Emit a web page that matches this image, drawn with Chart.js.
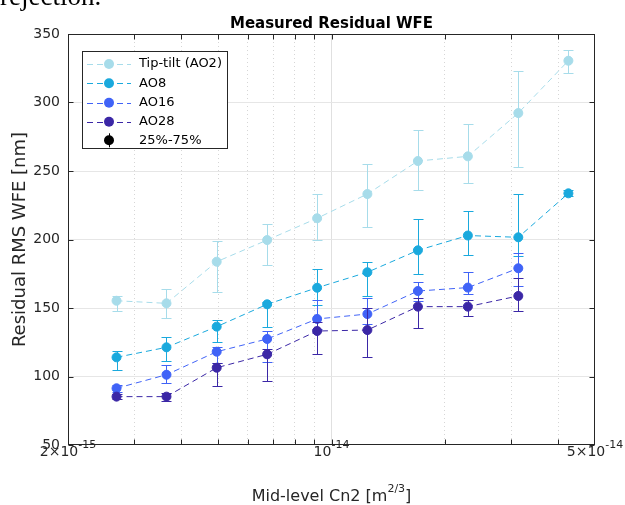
<!DOCTYPE html>
<html>
<head>
<meta charset="utf-8">
<script src="https://cdn.jsdelivr.net/npm/chart.js@4.4.1/dist/chart.umd.min.js"></script>
<style>
body { margin: 0; background: #fff; overflow: hidden; }
#wrap { position: relative; width: 625px; height: 505px; overflow: hidden; }
#clip { position: absolute; left: 0; top: -17px; font-family: "Liberation Serif", serif; font-size: 27px; line-height: 27px; color: #000; }
</style>
</head>
<body>
<div id="wrap">
  <canvas id="wfe" width="625" height="505"></canvas>
  <div id="clip">rejection.</div>
</div>
<script>
// mid-level Cn2 bins (x) and residual WFE per AO mode (y, nm)
let cn2 = [2.69e-15, 3.65e-15, 4.96e-15, 6.75e-15, 9.16e-15, 1.245e-14, 1.695e-14, 2.30e-14, 3.13e-14, 4.25e-14];

let tipTilt   = [155.3, 153.4, 183.8, 199.6, 215.5, 233.2, 257.3, 260.7, 292.3, 330.5];
let tipTiltLo = [147.6, 142.9, 161.7, 181.2, 199.4, 208.8, 236.1, 241.2, 252.9, 321.5];
let tipTiltHi = [159.0, 164.1, 198.8, 211.1, 233.4, 255.3, 279.9, 284.1, 323.2, 338.6];

let ao8   = [114.0, 121.3, 136.4, 152.7, 164.8, 176.1, 192.1, 202.9, 201.6, 233.7];
let ao8Lo = [104.7, 111.3, 125.4, 136.4, 152.2, 158.8, 174.8, 188.5, 188.0, 231.5];
let ao8Hi = [118.9, 128.8, 141.0, 154.6, 178.5, 183.8, 214.7, 220.5, 233.3, 236.0];

let ao16   = [91.4, 101.3, 118.1, 127.4, 142.0, 145.6, 162.4, 164.9, 179.0];
let ao16Lo = [89.0, 95.0, 110.0, 110.8, 135.0, 138.0, 155.0, 160.2, 165.8];
let ao16Hi = [93.5, 108.6, 121.5, 133.0, 156.1, 157.5, 168.8, 176.1, 189.9];

let ao28   = [85.3, 85.3, 106.4, 116.2, 133.2, 133.9, 151.0, 151.0, 158.8];
let ao28Lo = [83.5, 82.3, 93.0, 96.9, 116.2, 114.0, 135.4, 144.4, 148.0];
let ao28Hi = [87.0, 88.2, 110.0, 120.0, 140.0, 150.2, 157.0, 156.0, 171.7];

let xTickVals = [2e-15, 1e-14, 5e-14];
let xTickBase = ['2\u00d710', '10', '5\u00d710'];
let xTickExp  = ['-15', '-14', '-14'];
let yTicks    = [50, 100, 150, 200, 250, 300, 350];

// x grid: every 1,2..9 step of each decade between the limits
let xGrid = [];
for (let d = -15; d <= -14; d++) {
    for (let m = 1; m <= 9; m++) {
        let v = m * Math.pow(10, d);
        if (v >= 2e-15 * 0.999 && v <= 5e-14 * 1.001) xGrid.push(v);
    }
}
let isMajor = v => Math.abs(Math.log10(v) - Math.round(Math.log10(v))) < 1e-6;
let isEdge = v => Math.abs(v / 2e-15 - 1) < 1e-6 || Math.abs(v / 5e-14 - 1) < 1e-6;

let FONT = '"DejaVu Sans", sans-serif';
let AXC = '#262626';

function pts(ys) {
    return ys.map((y, i) => ({ x: cn2[i], y: y }));
}

function series(label, ys, lo, hi, color, order) {
    return {
        label: label,
        data: pts(ys),
        errLo: lo,
        errHi: hi,
        borderColor: color,
        backgroundColor: color,
        pointBackgroundColor: color,
        pointBorderColor: color,
        borderWidth: 1,
        borderDash: [6, 4],
        pointRadius: 4.5,
        pointBorderWidth: 1,
        order: order
    };
}

let decor = {
    id: 'decor',
    beforeDatasetDraw(chart, args) {
        let ds = chart.data.datasets[args.index];
        let xs = chart.scales.x, ys = chart.scales.y, ctx = chart.ctx;
        ctx.save();
        ctx.strokeStyle = ds.borderColor;
        ctx.lineWidth = 1;
        ds.data.forEach((p, i) => {
            let px = Math.round(xs.getPixelForValue(p.x)) + 0.5;
            let lo = Math.round(ys.getPixelForValue(ds.errLo[i])) + 0.5;
            let hi = Math.round(ys.getPixelForValue(ds.errHi[i])) + 0.5;
            ctx.beginPath();
            ctx.moveTo(px, lo); ctx.lineTo(px, hi);
            ctx.moveTo(px - 5, lo); ctx.lineTo(px + 5, lo);
            ctx.moveTo(px - 5, hi); ctx.lineTo(px + 5, hi);
            ctx.stroke();
        });
        ctx.restore();
    },
    afterDraw(chart) {
        let ctx = chart.ctx, a = chart.chartArea;
        let xs = chart.scales.x, ys = chart.scales.y;
        ctx.save();

        // box and inward ticks
        ctx.strokeStyle = AXC;
        ctx.lineWidth = 1;
        let L = Math.round(a.left) + 0.5, R = Math.round(a.right) - 0.5;
        let T = Math.round(a.top) + 0.5, B = Math.round(a.bottom) - 0.5;
        ctx.strokeRect(L, T, R - L, B - T);
        ctx.beginPath();
        xGrid.forEach(v => {
            if (isEdge(v)) return;
            let px = Math.round(xs.getPixelForValue(v)) + 0.5;
            ctx.moveTo(px, B); ctx.lineTo(px, B - 5);
            ctx.moveTo(px, T); ctx.lineTo(px, T + 5);
        });
        yTicks.forEach(v => {
            let py = Math.round(ys.getPixelForValue(v)) + 0.5;
            ctx.moveTo(L, py); ctx.lineTo(L + 5, py);
            ctx.moveTo(R, py); ctx.lineTo(R - 5, py);
        });
        ctx.stroke();

        // x tick labels with exponents
        ctx.fillStyle = AXC;
        ctx.textBaseline = 'alphabetic';
        ctx.textAlign = 'left';
        xTickVals.forEach((v, i) => {
            let px = xs.getPixelForValue(v);
            ctx.font = '14px ' + FONT;
            let wb = ctx.measureText(xTickBase[i]).width;
            ctx.font = '11px ' + FONT;
            let we = ctx.measureText(xTickExp[i]).width;
            let x0 = px - (wb + we) / 2;
            ctx.font = '14px ' + FONT;
            ctx.fillText(xTickBase[i], x0, 456);
            ctx.font = '11px ' + FONT;
            ctx.fillText(xTickExp[i], x0 + wb, 448);
        });

        // x axis title
        let t1 = 'Mid-level Cn2 [m', t2 = '2/3', t3 = ']';
        ctx.font = '16px ' + FONT;
        let w1 = ctx.measureText(t1).width, w3 = ctx.measureText(t3).width;
        ctx.font = '11px ' + FONT;
        let w2 = ctx.measureText(t2).width;
        let cx = (a.left + a.right) / 2;
        let x0 = cx - (w1 + w2 + w3) / 2;
        ctx.font = '16px ' + FONT;
        ctx.fillText(t1, x0, 501);
        ctx.fillText(t3, x0 + w1 + w2, 501);
        ctx.font = '11px ' + FONT;
        ctx.fillText(t2, x0 + w1, 492);

        // title
        ctx.fillStyle = '#000';
        ctx.font = 'bold 15px ' + FONT;
        ctx.textAlign = 'center';
        ctx.fillText('Measured Residual WFE', cx, 28);

        // legend
        let lx = 82.5, ly = 51.5, lw = 145, lh = 97;
        ctx.fillStyle = '#fff';
        ctx.fillRect(lx, ly, lw, lh);
        ctx.strokeStyle = AXC;
        ctx.strokeRect(lx, ly, lw, lh);
        ctx.textAlign = 'left';
        ctx.textBaseline = 'middle';
        ctx.font = '13px ' + FONT;
        let rows = [64, 83.3, 102.7, 121.7, 140.3];
        chart.data.datasets.forEach((ds, i) => {
            let ry = rows[i];
            ctx.strokeStyle = ds.borderColor;
            ctx.lineWidth = 1;
            ctx.setLineDash([6, 4]);
            ctx.beginPath();
            ctx.moveTo(87, Math.round(ry) + 0.5);
            ctx.lineTo(131, Math.round(ry) + 0.5);
            ctx.stroke();
            ctx.setLineDash([]);
            ctx.fillStyle = ds.backgroundColor;
            ctx.beginPath();
            ctx.arc(109, ry, 5, 0, Math.PI * 2);
            ctx.fill();
            ctx.fillStyle = '#000';
            ctx.fillText(ds.label, 139, ry);
        });
        let ry = rows[4];
        ctx.strokeStyle = '#000';
        ctx.beginPath();
        ctx.moveTo(109.5, ry - 7); ctx.lineTo(109.5, ry + 7);
        ctx.stroke();
        ctx.fillStyle = '#000';
        ctx.beginPath();
        ctx.arc(109, ry, 5, 0, Math.PI * 2);
        ctx.fill();
        ctx.fillText('25%-75%', 139, ry);

        ctx.restore();
    }
};

new Chart(document.getElementById('wfe'), {
    type: 'line',
    data: {
        datasets: [
            series('Tip-tilt (AO2)', tipTilt, tipTiltLo, tipTiltHi, '#a7dcea', 4),
            series('AO8', ao8, ao8Lo, ao8Hi, '#1aa9dd', 3),
            series('AO16', ao16, ao16Lo, ao16Hi, '#4063f7', 2),
            series('AO28', ao28, ao28Lo, ao28Hi, '#3b27a6', 1)
        ]
    },
    options: {
        responsive: false,
        devicePixelRatio: 1,
        animation: false,
        events: [],
        layout: { padding: { left: 0, right: 30, top: 34, bottom: 0 } },
        plugins: { legend: { display: false }, tooltip: { enabled: false } },
        scales: {
            x: {
                type: 'logarithmic',
                min: 2e-15,
                max: 5e-14,
                afterBuildTicks: s => { s.ticks = xGrid.map(v => ({ value: v })); },
                afterFit: s => { s.height = 60; },
                ticks: { display: false },
                border: {
                    display: false,
                    dash: c => (c.tick && isMajor(c.tick.value)) ? [] : [1, 3]
                },
                grid: {
                    drawTicks: false,
                    lineWidth: 1,
                    color: c => {
                        if (!c.tick || isEdge(c.tick.value)) return 'rgba(0,0,0,0)';
                        return isMajor(c.tick.value) ? '#e0e0e0' : '#d6d6d6';
                    }
                }
            },
            y: {
                min: 50,
                max: 350,
                afterBuildTicks: s => { s.ticks = yTicks.map(v => ({ value: v })); },
                afterFit: s => { s.width = 68; },
                ticks: { font: { family: FONT, size: 14 }, color: AXC, padding: 8 },
                border: { display: false },
                grid: {
                    drawTicks: false,
                    color: c => (c.tick && (c.tick.value === 50 || c.tick.value === 350)) ? 'rgba(0,0,0,0)' : '#e6e6e6'
                },
                title: {
                    display: true,
                    text: 'Residual RMS WFE [nm]',
                    color: AXC,
                    font: { family: FONT, size: 18 },
                    padding: { top: 10, bottom: 0 }
                }
            }
        }
    },
    plugins: [decor]
});
</script>
</body>
</html>
